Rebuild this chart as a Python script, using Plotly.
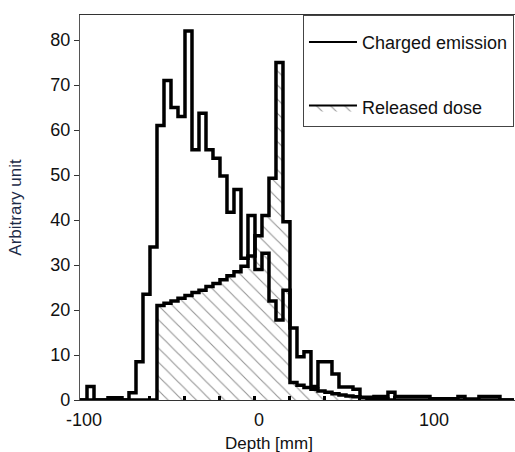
import plotly.graph_objects as go

# 4 mm bins, left edges from -100 mm to 144 mm (last edge 148)
depth_edges = list(range(-100, 152, 4))

# Charged emission histogram (one value per 4 mm bin, left edge -100 ... 144)
emission = [
    0, 3, 0, 0, 0.5, 0.5, 0, 1.6, 8.5, 23.5,      # -100 .. -64
    34, 61, 71, 65, 63, 82, 55.6, 63.7, 55.6, 53.7,  # -60 .. -24
    49.8, 41.7, 46.8, 31.5, 41, 29, 32.6, 22, 17.8, 24.4,  # -20 .. 16
    16, 9.6, 10.7, 3, 8.5, 8.5, 5.8, 2.9, 2.9, 2.4,  # 20 .. 56
    0.6, 0.6, 0.8, 0.8, 1.7, 0.8, 0.8, 0.8, 0.8, 0.8,  # 60 .. 96
    0.3, 0.3, 0.3, 0.3, 0.8, 0.2, 0.2, 0.8, 0.8, 0.8,  # 100 .. 136
    0, 0,                                             # 140 .. 144
]

# Released dose (Bragg curve), same bins
dose = [
    0, 0, 0, 0, 0, 0, 0, 0, 0, 0,                     # -100 .. -64
    0, 21.0, 21.5, 22.0, 22.6, 23.2, 23.9, 24.4, 25.2, 25.9,  # -60 .. -24
    26.7, 27.6, 28.5, 29.7, 32.0, 36.5, 41, 49.3, 75, 39.6,  # -20 .. 16
    3.9, 3.3, 2.8, 2.4, 2.0, 1.7, 1.4, 1.1, 0.9, 0.7,  # 20 .. 56
    0.5, 0.4, 0.3, 0.2, 0, 0, 0, 0, 0, 0,             # 60 .. 96
    0, 0, 0, 0, 0, 0, 0, 0, 0, 0,                     # 100 .. 136
    0, 0,                                             # 140 .. 144
]

x_ticks = list(range(-100, 160, 20))
x_labels = ["-100" if v == -100 else "0" if v == 0 else "100" if v == 100 else "" for v in x_ticks]
y_ticks = [0, 10, 20, 30, 40, 50, 60, 70, 80]

HATCH = dict(shape="\\", fgcolor="#2a2a2a", bgcolor="white", size=10, solidity=0.11)


def steps(vals):
    # step outline: start at zero, one horizontal run per bin, back to last value at final edge
    xs = [depth_edges[0]] + depth_edges
    ys = [0] + list(vals) + [vals[-1]]
    return xs, ys


fig = go.Figure()

dx, dy = steps(dose)
fig.add_trace(go.Scatter(
    x=dx, y=dy, mode="lines", line_shape="hv",
    line=dict(color="black", width=3.5),
    fill="tozeroy", fillcolor="white", fillpattern=HATCH,
    name="Released dose", showlegend=False,
))

ex, ey = steps(emission)
fig.add_trace(go.Scatter(
    x=ex, y=ey, mode="lines", line_shape="hv",
    line=dict(color="black", width=3.5),
    name="Charged emission", showlegend=False,
))

# legend entries (thin line samples as in the reference key)
fig.add_trace(go.Scatter(
    x=[None], y=[None], mode="lines", line=dict(color="black", width=2),
    name="Charged emission", legendrank=1, legendgroup="a",
))
fig.add_trace(go.Scatter(
    x=[None], y=[None], mode="lines", line=dict(color="black", width=2),
    fill="tozeroy", fillcolor="white", fillpattern=HATCH,
    name="Released dose", legendrank=2, legendgroup="b",
))

fig.update_xaxes(
    range=[-100, 148.6], showgrid=False, zeroline=False,
    tickmode="array", tickvals=x_ticks, ticktext=x_labels,
    ticks="inside", ticklen=4, tickwidth=2.5, tickcolor="black",
    showline=True, linecolor="#333333", linewidth=1.3, mirror=True,
    tickfont=dict(size=18, color="#111111"),
    ticklabelshift=4, ticklabelstandoff=3,
)
fig.update_yaxes(
    range=[0, 85.56], showgrid=False, zeroline=False,
    tickmode="array", tickvals=y_ticks,
    ticks="outside", ticklen=5, tickwidth=1, tickcolor="#333333",
    showline=True, linecolor="#555555", linewidth=1.3,
    tickfont=dict(size=18, color="#111111"),
    title=dict(text="Arbitrary unit", font=dict(size=17, color="#1c2b48"), standoff=24),
)

fig.add_annotation(
    text="Depth [mm]", xref="paper", yref="paper", x=0.434, y=-0.114,
    xanchor="center", yanchor="middle", showarrow=False,
    font=dict(size=17, color="#111111"),
)

fig.update_layout(
    width=515, height=452,
    margin=dict(l=80, r=0, t=15, b=52),
    plot_bgcolor="white", paper_bgcolor="white",
    font=dict(family="Liberation Sans, Arial, sans-serif", size=18, color="#111111"),
    showlegend=True,
    legend=dict(
        x=0.5126, y=1, xanchor="left", yanchor="top",
        bordercolor="#444444", borderwidth=1, bgcolor="white",
        font=dict(size=18, color="#111111"), tracegroupgap=39, itemwidth=48,
        traceorder="grouped",
        title=dict(text=" ", font=dict(size=6)),
    ),
)

fig.write_html("out.html")
